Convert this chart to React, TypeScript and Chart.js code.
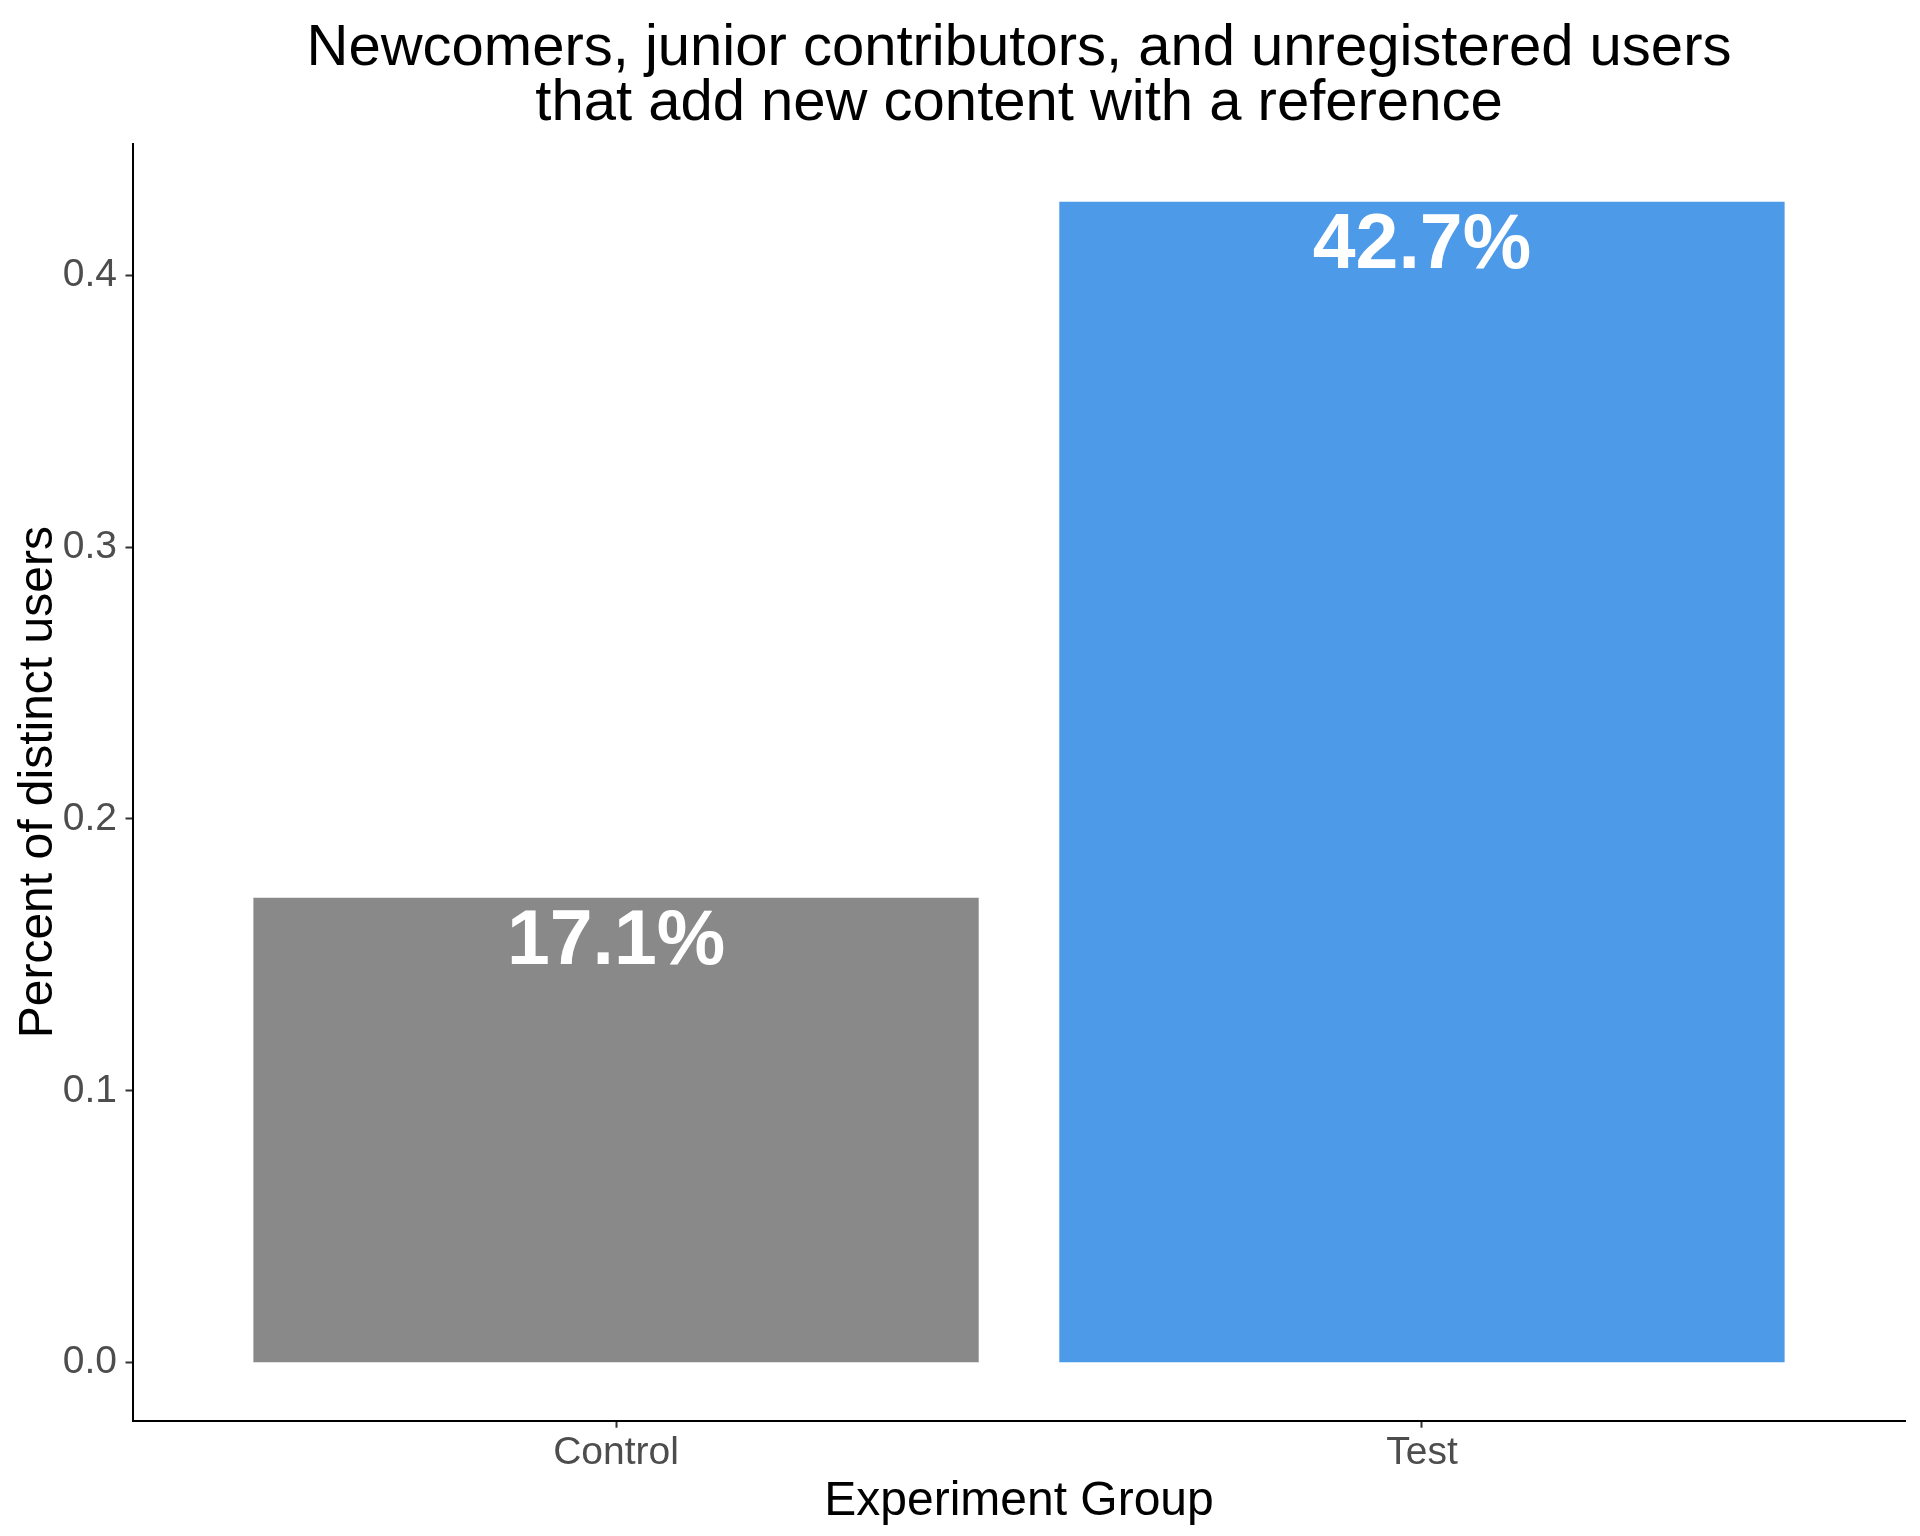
import React, { useEffect, useRef } from 'react';
import { Chart, registerables } from 'chart.js';

Chart.register(...registerables);

const categories = ['Control', 'Test'];
const categoryPositions = [1, 2];
const values = [0.171, 0.427];
const valueLabels = ['17.1%', '42.7%'];
const barColors = ['#898989', '#4D9AE8'];
const yTicks = [0, 0.1, 0.2, 0.3, 0.4];
const titleLines = [
  'Newcomers, junior contributors, and unregistered users',
  'that add new content with a reference',
];
const xTitle = 'Experiment Group';
const yTitle = 'Percent of distinct users';

const FONT = '"Liberation Sans", Arial, Helvetica, sans-serif';
const Y_MIN = -0.05 * 0.427;
const Y_MAX = 0.427 * 1.05;

const textPlugin = {
  id: 'customText',
  afterDraw(chart: any) {
    const ctx = chart.ctx;
    const area = chart.chartArea;
    const cx = (area.left + area.right) / 2;
    const cy = (area.top + area.bottom) / 2;
    ctx.save();
    // value labels
    const meta = chart.getDatasetMeta(0);
    ctx.fillStyle = '#ffffff';
    ctx.font = `bold 77px ${FONT}`;
    ctx.textAlign = 'center';
    ctx.textBaseline = 'alphabetic';
    meta.data.forEach((bar: any, i: number) => {
      ctx.fillText(valueLabels[i], bar.x, bar.y + 66);
    });
    // title
    ctx.fillStyle = '#000000';
    ctx.font = `58px ${FONT}`;
    ctx.fillText(titleLines[0], cx, 65);
    ctx.fillText(titleLines[1], cx, 120);
    // x title
    ctx.font = `48px ${FONT}`;
    ctx.fillText(xTitle, cx, 1515);
    // y title
    ctx.translate(52, cy);
    ctx.rotate(-Math.PI / 2);
    ctx.fillText(yTitle, 0, 0);
    ctx.restore();
  },
};

export default function App() {
  const canvasRef = useRef<HTMLCanvasElement | null>(null);

  useEffect(() => {
    document.body.style.margin = '0';
    const canvas = canvasRef.current;
    if (!canvas) return;
    const chart = new Chart(canvas, {
      type: 'bar',
      data: {
        datasets: [
          {
            data: categoryPositions.map((x, i) => ({ x, y: values[i] })),
            backgroundColor: barColors,
            borderWidth: 0,
            barPercentage: 0.9,
            categoryPercentage: 1,
          },
        ],
      },
      options: {
        responsive: false,
        animation: false,
        devicePixelRatio: 1,
        layout: { padding: { top: 143.7, right: 14.5, left: 0, bottom: 0 } },
        plugins: {
          legend: { display: false },
          tooltip: { enabled: false },
          title: { display: false },
        },
        scales: {
          x: {
            type: 'linear',
            min: 0.4,
            max: 2.6,
            offset: false,
            afterBuildTicks: (s: any) => {
              s.ticks = categoryPositions.map((v) => ({ value: v }));
            },
            afterFit: (s: any) => {
              s.height = 115.3;
            },
            ticks: {
              autoSkip: false,
              maxRotation: 0,
              minRotation: 0,
              padding: 2,
              color: '#4D4D4D',
              font: { family: FONT, size: 39 },
              callback: (v: any) => categories[categoryPositions.indexOf(Number(v))] ?? '',
            },
            grid: {
              display: true,
              offset: false,
              drawOnChartArea: false,
              drawTicks: true,
              tickLength: 7,
              tickColor: '#333333',
              tickWidth: 2,
            },
            border: { display: true, color: '#000000', width: 2 },
          },
          y: {
            type: 'linear',
            min: Y_MIN,
            max: Y_MAX,
            afterBuildTicks: (s: any) => {
              s.ticks = yTicks.map((v) => ({ value: v }));
            },
            afterFit: (s: any) => {
              s.width = 132.5;
            },
            ticks: {
              autoSkip: false,
              padding: 8.5,
              color: '#4D4D4D',
              font: { family: FONT, size: 39 },
              callback: (v: any) => Number(v).toFixed(1),
            },
            grid: {
              display: true,
              offset: false,
              drawOnChartArea: false,
              drawTicks: true,
              tickLength: 7,
              tickColor: '#333333',
              tickWidth: 2,
            },
            border: { display: true, color: '#000000', width: 2 },
          },
        },
      } as any,
      plugins: [textPlugin],
    });
    return () => chart.destroy();
  }, []);

  return (
    <div style={{ width: 1920, height: 1536, background: '#ffffff' }}>
      <canvas ref={canvasRef} width={1920} height={1536} style={{ display: 'block', width: 1920, height: 1536 }} />
    </div>
  );
}
